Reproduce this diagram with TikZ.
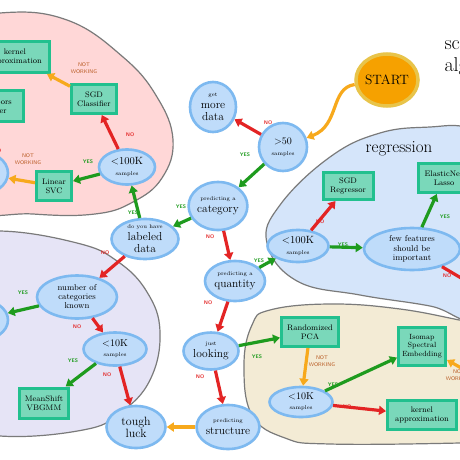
\documentclass[tikz,border=0pt]{standalone}
\usetikzlibrary{arrows.meta,shapes.geometric,shadows}

\definecolor{qfill}{HTML}{BFDCFA}
\definecolor{qring}{HTML}{7DB9F0}
\definecolor{boxfill}{HTML}{7AD8BA}
\definecolor{boxedge}{HTML}{22C08E}
\definecolor{startfill}{HTML}{F6A100}
\definecolor{startring}{HTML}{E8C44A}
\definecolor{pinkfill}{HTML}{FFD7D7}
\definecolor{lavfill}{HTML}{E6E4F6}
\definecolor{regfill}{HTML}{D5E5FA}
\definecolor{tanfill}{HTML}{F3EBD5}
\definecolor{regionline}{HTML}{7A7A7A}
\definecolor{yesgreen}{HTML}{1E9B1E}
\definecolor{nored}{HTML}{E32424}
\definecolor{nworange}{HTML}{F7A91C}
\definecolor{nwbrown}{HTML}{B85A22}

\newcommand{\qsmall}[1]{{\fontsize{5.5}{6}\selectfont #1}}

\begin{document}
\begin{tikzpicture}[x=1pt,y=-1pt,
    question/.style={ellipse,draw=qring,line width=2.6pt,fill=qfill,inner sep=0pt,
      align=center,font=\fontsize{11.5}{12}\selectfont,
      drop shadow={opacity=0.25,shadow xshift=0.6pt,shadow yshift=-1pt}},
    estimator/.style={rectangle,draw=boxedge,line width=3pt,fill=boxfill,inner sep=0pt,
      align=center,font=\fontsize{8}{9}\selectfont,
      drop shadow={opacity=0.25,shadow xshift=0.6pt,shadow yshift=-1pt}},
    region/.style={draw=regionline,line width=1.2pt},
    yes/.style={draw=yesgreen,line width=3.2pt,-{Triangle[length=7pt,width=9pt]}},
    no/.style={draw=nored,line width=3.2pt,-{Triangle[length=7pt,width=9pt]}},
    notworking/.style={draw=nworange,line width=3.2pt,-{Triangle[length=7pt,width=9pt]}},
    yeslabel/.style={text=yesgreen,font=\fontsize{5.2}{5.2}\sffamily\bfseries,inner sep=0pt},
    nolabel/.style={text=nored,font=\fontsize{5.2}{5.2}\sffamily\bfseries,inner sep=0pt},
    nwlabel/.style={text=nwbrown,align=center,font=\fontsize{5.3}{6.5}\sffamily,inner sep=0pt}]
  \useasboundingbox (0,0) rectangle (460,460);
  \clip (0,0) rectangle (460,460);
  \fill[white] (0,0) rectangle (460,460);

  % regions
  \draw[region,fill=pinkfill] plot[smooth cycle,tension=0.7] coordinates {(-70,30) (0,13) (67,20)
    (123,57) (157,97) (173,140) (162,178) (133,202) (95,214) (33,214) (-40,205) (-80,120)};
  \draw[region,fill=lavfill] plot[smooth cycle,tension=0.7] coordinates {(-60,240) (0,231) (77,243)
    (117,261) (147,292) (160,332) (150,380) (120,413) (83,430) (0,436) (-60,420) (-90,330)};
  \draw[region,fill=regfill] plot[smooth cycle,tension=0.7] coordinates {(267,243) (280,205) (330,157)
    (380,133) (430,127) (470,128) (520,150) (530,260) (480,318) (430,306) (360,295) (297,281)};
  \draw[region,fill=tanfill] plot[smooth cycle,tension=0.7] coordinates {(270,310) (330,304) (400,309)
    (470,322) (520,330) (520,440) (460,443) (330,444) (285,438) (252,415) (244,365) (252,325)};

  \node[anchor=base west,font=\fontsize{20}{20}\selectfont] (title) at (441,49) {scikit-learn};
  \node[anchor=base west,font=\fontsize{20}{20}\selectfont] (subtitle) at (441,71) {algorithm cheat-sheet};
  \node[font=\fontsize{17}{17}\selectfont,anchor=base] (regression) at (399,152) {regression};

  \node[question,minimum width=60pt,minimum height=52pt,draw=startring,line width=3.5pt,fill=startfill,
    font=\fontsize{13.5}{14}\selectfont] (start) at (387,80) {START};
  \node[question,minimum width=46pt,minimum height=50pt] (moredata) at (213,107) {\qsmall{get}\\more\\data};
  \node[question,minimum width=48pt,minimum height=48pt,font=\fontsize{10}{11}\selectfont] (gt50) at (283,147) {>50\\\qsmall{samples}};
  \node[question,minimum width=55pt,minimum height=48pt] (category) at (218,206) {\qsmall{predicting a}\\category};
  \node[question,minimum width=67pt,minimum height=40pt] (labeled) at (145,239) {\qsmall{do you have}\\labeled\\data};
  \node[question,minimum width=56pt,minimum height=35pt,font=\fontsize{10.5}{11}\selectfont] (clsk) at (127,167) {<100K\\\qsmall{samples}};
  \node[question,minimum width=60pt,minimum height=44pt] (textdata) at (-22,173) {};
  \node[question,minimum width=80pt,minimum height=43pt,font=\fontsize{8.5}{9}\selectfont] (ncat) at (77,297) {number of\\categories\\known};
  \node[question,minimum width=60pt,minimum height=42pt] (kmeansk) at (-22,320) {};
  \node[question,minimum width=63pt,minimum height=33pt,font=\fontsize{10}{10}\selectfont] (clu10k) at (115,349) {<10K\\\qsmall{samples}};
  \node[question,minimum width=59pt,minimum height=42pt,font=\fontsize{12}{12}\selectfont] (tough) at (136,427) {tough\\luck};
  \node[question,minimum width=60pt,minimum height=40pt] (quantity) at (235,281) {\qsmall{predicting a}\\quantity};
  \node[question,minimum width=55pt,minimum height=37pt] (looking) at (211,351) {\qsmall{just}\\looking};
  \node[question,minimum width=60pt,minimum height=44pt] (structure) at (228,427) {\qsmall{predicting}\\structure};
  \node[question,minimum width=61pt,minimum height=32pt,font=\fontsize{10.5}{11}\selectfont] (regk) at (298,246) {<100K\\\qsmall{samples}};
  \node[question,minimum width=96pt,minimum height=42pt,font=\fontsize{8.5}{9.5}\selectfont] (few) at (412,249) {few features\\should be\\important};
  \node[question,minimum width=63pt,minimum height=30pt,font=\fontsize{10}{10}\selectfont] (dim10k) at (301,402) {<10K\\\qsmall{samples}};

  \node[estimator,minimum width=69pt,minimum height=31pt] (kclass) at (15,57) {kernel\\approximation};
  \node[estimator,minimum width=45pt,minimum height=29pt] (sgdc) at (94,99) {SGD\\Classifier};
  \node[estimator,minimum width=67pt,minimum height=31pt] (kneigh) at (-10,106) {KNeighbors\\Classifier};
  \node[estimator,minimum width=35pt,minimum height=29pt] (lsvc) at (54,186) {Linear\\SVC};
  \node[estimator,minimum width=49pt,minimum height=30pt] (meanshift) at (44,403) {MeanShift\\VBGMM};
  \node[estimator,minimum width=50pt,minimum height=27pt] (sgdr) at (348,186) {SGD\\Regressor};
  \node[estimator,minimum width=51pt,minimum height=29pt] (enet) at (444,178) {ElasticNet\\Lasso};
  \node[estimator,minimum width=57pt,minimum height=29pt] (pca) at (310,332) {Randomized\\PCA};
  \node[estimator,minimum width=47pt,minimum height=38pt,font=\fontsize{7.5}{8.5}\selectfont] (isomap) at (422,346) {Isomap\\Spectral\\Embedding};
  \node[estimator,minimum width=69pt,minimum height=29pt] (kdim) at (422,415) {kernel\\approximation};

  \coordinate (fewout) at (478,288);
  \coordinate (isoin) at (472,374);

  \draw[notworking] (start) .. controls (330,88) and (340,125) .. (gt50);
  \draw[no] (gt50) -- (moredata);
  \draw[yes] (gt50) -- (category);
  \draw[yes] (category) -- (labeled);
  \draw[no] (category) -- (quantity);
  \draw[yes] (labeled) -- (clsk);
  \draw[no] (labeled) -- (ncat);
  \draw[no] (clsk) -- (sgdc);
  \draw[notworking] (sgdc) -- (kclass);
  \draw[yes] (clsk) -- (lsvc);
  \draw[notworking] (lsvc) -- (textdata);
  \draw[no] (textdata) -- (kneigh);
  \draw[yes] (ncat) -- (kmeansk);
  \draw[no] (ncat) -- (clu10k);
  \draw[yes] (clu10k) -- (meanshift);
  \draw[no] (clu10k) -- (tough);
  \draw[yes] (quantity) -- (regk);
  \draw[no] (regk) -- (sgdr);
  \draw[yes] (regk) -- (few);
  \draw[yes] (few) -- (enet);
  \draw[no] (few) -- (fewout);
  \draw[no] (quantity) -- (looking);
  \draw[yes] (looking) -- (pca);
  \draw[no] (looking) -- (structure);
  \draw[notworking] (structure) -- (tough);
  \draw[notworking] (pca) -- (dim10k);
  \draw[yes] (dim10k) -- (isomap);
  \draw[no] (dim10k) -- (kdim);
  \draw[notworking] (isoin) -- (isomap);

  % labels
  \node[nolabel] (l1) at (268,123) {NO};
  \node[yeslabel] (l2) at (245,155) {YES};
  \node[yeslabel] (l3) at (181,207) {YES};
  \node[nolabel] (l4) at (210,237) {NO};
  \node[yeslabel] (l5) at (133,213) {YES};
  \node[nolabel] (l6) at (105,253) {NO};
  \node[nolabel] (l7) at (130,135) {NO};
  \node[nwlabel] (l8) at (84,68) {NOT\\WORKING};
  \node[yeslabel] (l9) at (88,162) {YES};
  \node[nwlabel] (l10) at (28,159) {NOT\\WORKING};
  \node[nolabel] (l11) at (-3,151) {NO};
  \node[yeslabel] (l12) at (23,293) {YES};
  \node[nolabel] (l13) at (77,327) {NO};
  \node[yeslabel] (l14) at (73,361) {YES};
  \node[nolabel] (l15) at (107,375) {NO};
  \node[yeslabel] (l16) at (259,261) {YES};
  \node[nolabel] (l17) at (320,222) {NO};
  \node[yeslabel] (l18) at (343,245) {YES};
  \node[yeslabel] (l19) at (445,217) {YES};
  \node[nolabel] (l20) at (447,276) {NO};
  \node[nolabel] (l21) at (208,303) {NO};
  \node[yeslabel] (l22) at (257,357) {YES};
  \node[nolabel] (l23) at (200,377) {NO};
  \node[nwlabel] (l24) at (322,361) {NOT\\WORKING};
  \node[yeslabel] (l25) at (333,385) {YES};
  \node[nolabel] (l26) at (347,407) {NO};
  \node[nwlabel] (l27) at (459,375) {NOT\\WORKING};
\end{tikzpicture}
\end{document}
